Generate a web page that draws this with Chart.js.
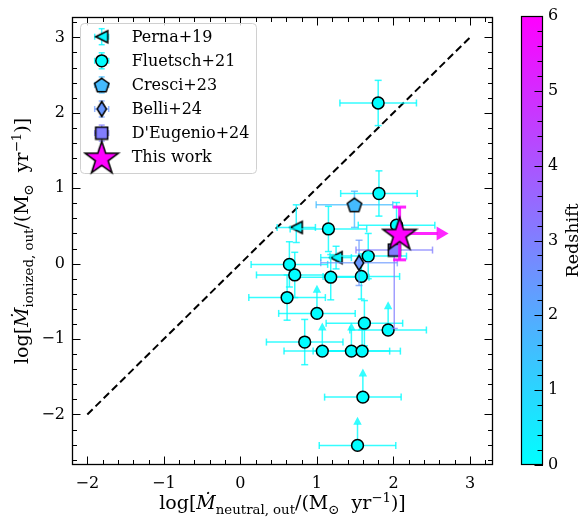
<!DOCTYPE html>
<html>
<head>
<meta charset="utf-8">
<script src="https://cdn.jsdelivr.net/npm/chart.js@4.4.1/dist/chart.umd.min.js"></script>
<style>
  html, body { margin: 0; padding: 0; background: #fff; }
  #wrap { position: relative; width: 582px; height: 518px; overflow: hidden; background: #fff; }
  canvas { position: absolute; top: 0; }
  #main { left: 0; }
  #cbar { left: 500px; }
</style>
</head>
<body>
<div id="wrap">
  <canvas id="main" width="510" height="518"></canvas>
  <canvas id="cbar" width="82" height="518"></canvas>
</div>
<script>
const FONT = "'DejaVu Serif', 'Liberation Serif', serif";
Chart.defaults.font.family = FONT;
Chart.defaults.font.size = 16;
Chart.defaults.color = '#000';

// ---------------- axes ----------------
const xTicks = [-2, -1, 0, 1, 2, 3];
const yTicks = [-2, -1, 0, 1, 2, 3];
const zTicks = [0, 1, 2, 3, 4, 5, 6];
const xRange = [-2.2, 3.3];
const yRange = [-2.67, 3.27];
const zRange = [0, 6];
const oneToOne = [-2, 3];

// ---------------- outflow rates, log(Msun/yr) ----------------
// Perna+19
const pernaX      = [0.73, 1.25];
const pernaY      = [0.48, 0.08];
const pernaXErr   = [0.25, 0.20];
const pernaYErrLo = [0.20, 0.15];
const pernaYErrHi = [0.30, 0.15];
const pernaZ      = [0.2, 0.2];

// Fluetsch+21
const fluetschX    = [1.80, 1.81, 2.04, 1.15, 1.67, 0.64, 0.71, 1.18, 1.58, 0.61, 1.00, 1.62, 1.93, 0.84, 1.07, 1.45, 1.59, 1.60, 1.53];
const fluetschY    = [2.13, 0.93, 0.51, 0.46, 0.10, -0.01, -0.15, -0.18, -0.17, -0.45, -0.66, -0.79, -0.88, -1.04, -1.16, -1.16, -1.16, -1.77, -2.41];
const fluetschXErr = [0.5, 0.5, 0.5, 0.5, 0.5, 0.5, 0.5, 0.5, 0.5, 0.5, 0.5, 0.5, 0.5, 0.5, 0.5, 0.5, 0.5, 0.5, 0.5];
const fluetschYErr = [0.3, 0.3, 0.3, 0.3, 0.3, 0.3, 0.3, 0.3, 0.3, 0.3, 0.38, 0.3, 0.38, 0.3, 0.38, 0.38, 0.38, 0.38, 0.38];
const fluetschYLim = [false, false, false, false, false, false, false, false, false, false, true, false, true, false, true, true, true, true, true];
const fluetschZ    = [0.05, 0.05, 0.05, 0.05, 0.05, 0.05, 0.05, 0.05, 0.05, 0.05, 0.05, 0.05, 0.05, 0.05, 0.05, 0.05, 0.05, 0.05, 0.05];

// Cresci+23
const cresciX = [1.49], cresciY = [0.78], cresciXErr = [0.5], cresciYErrLo = [0.30], cresciYErrHi = [0.18], cresciZ = [1.6];
// Belli+24
const belliX = [1.55], belliY = [0.01], belliXErr = [0.5], belliYErrLo = [0.30], belliYErrHi = [0.30], belliZ = [2.45];
// D'Eugenio+24
const deugX = [2.01], deugY = [0.18], deugXErr = [0.5], deugYErrLo = [1.04], deugYErrHi = [0.08], deugZ = [3.06];
// This work (lower limit on the neutral outflow rate)
const thisX = [2.08], thisY = [0.40], thisXErr = [0.64], thisYErr = [0.35], thisZ = [6.0];

// ---------------- colour map: cool (cyan -> magenta) ----------------
function cool(z, a) {
  const t = Math.min(1, Math.max(0, (z - zRange[0]) / (zRange[1] - zRange[0])));
  return `rgba(${Math.round(255 * t)},${Math.round(255 * (1 - t))},255,${a === undefined ? 1 : a})`;
}

// ---------------- marker glyphs ----------------
function makeMarker(kind, size, fill) {
  const c = document.createElement('canvas');
  c.width = c.height = size;
  const g = c.getContext('2d');
  const m = size / 2;
  g.beginPath();
  if (kind === 'triLeft') {
    const a = m - 2;
    g.moveTo(m - a, m); g.lineTo(m + a, m - a); g.lineTo(m + a, m + a);
  } else if (kind === 'pentagon') {
    const r = m - 1.5;
    for (let i = 0; i < 5; i++) {
      const ang = -Math.PI / 2 + i * 2 * Math.PI / 5;
      const px = m + r * Math.cos(ang), py = m + r * Math.sin(ang) + 0.8;
      i ? g.lineTo(px, py) : g.moveTo(px, py);
    }
  } else if (kind === 'thinDiamond') {
    const h = m - 1.5, w = h * 0.62;
    g.moveTo(m, m - h); g.lineTo(m + w, m); g.lineTo(m, m + h); g.lineTo(m - w, m);
  } else if (kind === 'square') {
    const h = m - 1.5;
    g.rect(m - h, m - h, 2 * h, 2 * h);
  } else if (kind === 'star') {
    const R = m - 1.5, r = R * 0.382;
    for (let i = 0; i < 10; i++) {
      const ang = -Math.PI / 2 + i * Math.PI / 5;
      const rr = i % 2 ? r : R;
      const px = m + rr * Math.cos(ang), py = m + rr * Math.sin(ang) + 1.5;
      i ? g.lineTo(px, py) : g.moveTo(px, py);
    }
  }
  g.closePath();
  g.fillStyle = fill; g.fill();
  g.lineWidth = 1.5; g.strokeStyle = '#000'; g.lineJoin = 'miter'; g.stroke();
  return c;
}

function pts(xs, ys) { return xs.map((x, i) => ({ x, y: ys[i] })); }

const datasets = [
  {
    label: 'This work', order: 0, data: pts(thisX, thisY),
    pointStyle: thisZ.map(z => makeMarker('star', 38, cool(z))), pointRadius: 16,
    showLine: false,
    err: { xlo: thisX.map(() => 0), xhi: thisXErr, xlim: thisX.map(() => true),
           ylo: thisYErr, yhi: thisYErr, ylim: thisX.map(() => false),
           colors: thisZ.map(z => cool(z, 0.85)), lw: 3, cap: 6.5, head: [12, 7] }
  },
  {
    label: "D'Eugenio+24", order: 1, data: pts(deugX, deugY),
    pointStyle: deugZ.map(z => makeMarker('square', 15, cool(z))), pointRadius: 7,
    showLine: false,
    err: { xlo: deugXErr, xhi: deugXErr, ylo: deugYErrLo, yhi: deugYErrHi,
           colors: deugZ.map(z => cool(z, 0.75)), lw: 1.5, cap: 3.5 }
  },
  {
    label: 'Belli+24', order: 2, data: pts(belliX, belliY),
    pointStyle: belliZ.map(z => makeMarker('thinDiamond', 18, cool(z))), pointRadius: 7,
    showLine: false,
    err: { xlo: belliXErr, xhi: belliXErr, ylo: belliYErrLo, yhi: belliYErrHi,
           colors: belliZ.map(z => cool(z, 0.7)), lw: 1.5, cap: 3.5 }
  },
  {
    label: 'Cresci+23', order: 3, data: pts(cresciX, cresciY),
    pointStyle: cresciZ.map(z => makeMarker('pentagon', 18, cool(z))), pointRadius: 7,
    showLine: false,
    err: { xlo: cresciXErr, xhi: cresciXErr, ylo: cresciYErrLo, yhi: cresciYErrHi,
           colors: cresciZ.map(z => cool(z, 0.75)), lw: 1.5, cap: 3.5 }
  },
  {
    label: 'Fluetsch+21', order: 4, data: pts(fluetschX, fluetschY),
    pointStyle: 'circle', pointRadius: 5.9, pointBorderWidth: 1.5,
    pointBackgroundColor: fluetschZ.map(z => cool(z)), pointBorderColor: '#000',
    showLine: false,
    err: { xlo: fluetschXErr, xhi: fluetschXErr,
           ylo: fluetschYErr.map((v, i) => fluetschYLim[i] ? 0 : v), yhi: fluetschYErr, ylim: fluetschYLim,
           colors: fluetschZ.map(z => cool(z, 0.8)), lw: 1.5, cap: 3.5, head: [8, 4.2] }
  },
  {
    label: 'Perna+19', order: 5, data: pts(pernaX, pernaY),
    pointStyle: pernaZ.map(z => makeMarker('triLeft', 16, cool(z))), pointRadius: 7,
    showLine: false,
    err: { xlo: pernaXErr, xhi: pernaXErr, ylo: pernaYErrLo, yhi: pernaYErrHi,
           colors: pernaZ.map(z => cool(z, 0.8)), lw: 1.5, cap: 3.5 }
  },
  {
    type: 'line', label: '1:1', order: 6, data: pts(oneToOne, oneToOne),
    borderColor: '#000', borderWidth: 2, borderDash: [7.5, 4], pointRadius: 0, fill: false
  }
];

// ---------------- drawing helpers ----------------
function seg(ctx, x1, y1, x2, y2) { ctx.beginPath(); ctx.moveTo(x1, y1); ctx.lineTo(x2, y2); ctx.stroke(); }
function head(ctx, x, y, dir, len, hw) {
  ctx.beginPath();
  if (dir === 'up') { ctx.moveTo(x, y); ctx.lineTo(x - hw, y + len); ctx.lineTo(x + hw, y + len); }
  else { ctx.moveTo(x, y); ctx.lineTo(x - len, y - hw); ctx.lineTo(x - len, y + hw); }
  ctx.closePath(); ctx.fill();
}

// error bars and limit arrows, drawn just beneath each series' markers
const errorBars = {
  id: 'errorBars',
  beforeDatasetDraw(chart, args) {
    const ds = chart.data.datasets[args.index];
    const e = ds.err;
    if (!e) return;
    const sx = chart.scales.x, sy = chart.scales.y, ctx = chart.ctx;
    ctx.save();
    ctx.lineWidth = e.lw; ctx.lineCap = 'butt';
    ds.data.forEach((p, i) => {
      ctx.strokeStyle = e.colors[i]; ctx.fillStyle = e.colors[i];
      const px = sx.getPixelForValue(p.x), py = sy.getPixelForValue(p.y);
      // horizontal
      const xl = sx.getPixelForValue(p.x - e.xlo[i]), xr = sx.getPixelForValue(p.x + e.xhi[i]);
      if (e.xlim && e.xlim[i]) {
        const [len, hw] = e.head;
        seg(ctx, px, py, xr - len + 1, py);
        head(ctx, xr, py, 'right', len, hw);
      } else {
        seg(ctx, xl, py, xr, py);
        seg(ctx, xl, py - e.cap, xl, py + e.cap);
        seg(ctx, xr, py - e.cap, xr, py + e.cap);
      }
      // vertical
      const yb = sy.getPixelForValue(p.y - e.ylo[i]), yt = sy.getPixelForValue(p.y + e.yhi[i]);
      if (e.ylim && e.ylim[i]) {
        const [len, hw] = e.head;
        seg(ctx, px, py, px, yt + len - 1);
        head(ctx, px, yt, 'up', len, hw);
      } else {
        seg(ctx, px, yb, px, yt);
        seg(ctx, px - e.cap, yb, px + e.cap, yb);
        seg(ctx, px - e.cap, yt, px + e.cap, yt);
      }
    });
    ctx.restore();
  }
};

function richText(ctx, parts, x, y) {
  let w = 0;
  parts.forEach(s => { ctx.font = s.f; s.w = ctx.measureText(s.t).width; w += s.w; });
  let cx = x - w / 2;
  ctx.textAlign = 'left'; ctx.textBaseline = 'alphabetic';
  parts.forEach(s => { ctx.font = s.f; ctx.fillText(s.t, cx, y + (s.dy || 0)); cx += s.w; });
}

const BIG = `19px ${FONT}`, BIGI = `italic 19px ${FONT}`, SMALL = `13.3px ${FONT}`;
function unitLabel(phase) {
  return [
    { t: 'log[', f: BIG }, { t: 'Ṁ', f: BIGI }, { t: phase + ', out', f: SMALL, dy: 4.5 },
    { t: '/(M', f: BIG }, { t: '⊙', f: SMALL, dy: 4.5 }, { t: '  yr', f: BIG },
    { t: '−1', f: SMALL, dy: -7.5 }, { t: ')]', f: BIG }
  ];
}

function ticksOn(ctx, scale, horiz, a, major, minor) {
  const lo = Math.ceil(scale.min * 5 - 1e-9), hi = Math.floor(scale.max * 5 + 1e-9);
  for (let k = lo; k <= hi; k++) {
    const v = k / 5, L = (k % 5 === 0) ? major : minor;
    const p = Math.round(scale.getPixelForValue(v)) + 0.5;
    if (horiz) { seg(ctx, p, a.bottom, p, a.bottom - L); seg(ctx, p, a.top, p, a.top + L); }
    else { seg(ctx, a.left, p, a.left + L, p); seg(ctx, a.right, p, a.right - L, p); }
  }
}

// frame, inward ticks, legend and axis titles
const decorations = {
  id: 'decorations',
  afterDraw(chart) {
    const { ctx, chartArea: a, scales: { x, y } } = chart;
    ctx.save();
    ctx.strokeStyle = '#000'; ctx.lineWidth = 1;
    ticksOn(ctx, x, true, a, 8.5, 5);
    ticksOn(ctx, y, false, a, 8.5, 5);
    ctx.lineWidth = 1.3;
    ctx.strokeRect(a.left + 0.5, a.top + 0.5, a.right - a.left - 1, a.bottom - a.top - 1);

    // legend
    const box = { l: 80, t: 23, r: 256, b: 173 };
    ctx.beginPath();
    ctx.roundRect(box.l + 0.5, box.t + 0.5, box.r - box.l, box.b - box.t, 4);
    ctx.fillStyle = 'rgba(255,255,255,0.8)'; ctx.fill();
    ctx.strokeStyle = '#d0d0d0'; ctx.lineWidth = 1; ctx.stroke();
    const rows = ['Perna+19', 'Fluetsch+21', 'Cresci+23', 'Belli+24', "D'Eugenio+24", 'This work'];
    rows.forEach((name, r) => {
      const ds = chart.data.datasets.find(d => d.label === name);
      const cy = 36.7 + r * 24.1, cx = 101.7, e = ds.err;
      ctx.strokeStyle = e.colors[0]; ctx.lineWidth = e.lw;
      const hl = 7, vl = 8, c = 3;
      seg(ctx, cx - hl, cy, cx + hl, cy);
      seg(ctx, cx - hl, cy - c, cx - hl, cy + c); seg(ctx, cx + hl, cy - c, cx + hl, cy + c);
      seg(ctx, cx, cy - vl, cx, cy + vl);
      seg(ctx, cx - c, cy - vl, cx + c, cy - vl); seg(ctx, cx - c, cy + vl, cx + c, cy + vl);
      const st = Array.isArray(ds.pointStyle) ? ds.pointStyle[0] : ds.pointStyle;
      if (typeof st === 'string') {
        ctx.beginPath(); ctx.arc(cx, cy, ds.pointRadius, 0, 2 * Math.PI);
        ctx.fillStyle = ds.pointBackgroundColor[0]; ctx.fill();
        ctx.lineWidth = 1.5; ctx.strokeStyle = '#000'; ctx.stroke();
      } else {
        ctx.drawImage(st, cx - st.width / 2, cy - st.height / 2);
      }
      ctx.fillStyle = '#000'; ctx.font = `16px ${FONT}`;
      ctx.textAlign = 'left'; ctx.textBaseline = 'middle';
      ctx.fillText(name, 131.7, cy + 1);
    });

    // axis titles
    ctx.fillStyle = '#000';
    richText(ctx, unitLabel('neutral'), (a.left + a.right) / 2, 509);
    ctx.translate(28, (a.top + a.bottom) / 2);
    ctx.rotate(-Math.PI / 2);
    richText(ctx, unitLabel('ionized'), 0, 0);
    ctx.restore();
  }
};

const minusFmt = v => (v < 0 ? '\u2212' + Math.abs(v) : String(v));

new Chart(document.getElementById('main'), {
  type: 'scatter',
  data: { datasets },
  options: {
    responsive: false, animation: false, devicePixelRatio: 1,
    layout: { padding: { top: 16, right: 13, left: 0, bottom: 0 } },
    plugins: { legend: { display: false }, tooltip: { enabled: false } },
    scales: {
      x: {
        type: 'linear', min: xRange[0], max: xRange[1],
        grid: { display: false, drawTicks: false }, border: { display: false },
        ticks: { padding: 9, callback: minusFmt, maxRotation: 0, autoSkip: false, font: { size: 16 } },
        afterBuildTicks: s => { s.ticks = xTicks.map(v => ({ value: v })); },
        afterFit: s => { s.height = 53; }
      },
      y: {
        type: 'linear', min: yRange[0], max: yRange[1],
        grid: { display: false, drawTicks: false }, border: { display: false },
        ticks: { padding: 7, callback: minusFmt, autoSkip: false, font: { size: 16 } },
        afterBuildTicks: s => { s.ticks = yTicks.map(v => ({ value: v })); },
        afterFit: s => { s.width = 72; }
      }
    }
  },
  plugins: [errorBars, decorations]
});

// ---------------- colour bar ----------------
const cbarFrame = {
  id: 'cbarFrame',
  afterDraw(chart) {
    const { ctx, chartArea: a, scales: { y } } = chart;
    ctx.save();
    ctx.strokeStyle = '#000'; ctx.lineWidth = 1;
    const lo = Math.ceil(y.min * 5), hi = Math.floor(y.max * 5);
    for (let k = lo; k <= hi; k++) {
      const L = k % 5 === 0 ? 8.5 : 5.5;
      const p = Math.round(y.getPixelForValue(k / 5)) + 0.5;
      seg(ctx, a.right, p, a.right - L, p);
    }
    ctx.lineWidth = 1.2;
    ctx.strokeRect(a.left + 0.5, a.top + 0.5, a.right - a.left - 1, a.bottom - a.top - 1);
    ctx.fillStyle = '#000'; ctx.font = `17.5px ${FONT}`;
    ctx.textAlign = 'center'; ctx.textBaseline = 'alphabetic';
    ctx.translate(78, (a.top + a.bottom) / 2);
    ctx.rotate(-Math.PI / 2);
    ctx.fillText('Redshift', 0, 0);
    ctx.restore();
  }
};

new Chart(document.getElementById('cbar'), {
  type: 'bar',
  data: {
    labels: ['z'],
    datasets: [{
      data: [zRange],
      borderWidth: 0, barPercentage: 1, categoryPercentage: 1,
      backgroundColor(c) {
        const a = c.chart.chartArea;
        if (!a) return 'rgba(0,0,0,0)';
        const g = c.chart.ctx.createLinearGradient(0, a.bottom, 0, a.top);
        g.addColorStop(0, cool(zRange[0]));
        g.addColorStop(1, cool(zRange[1]));
        return g;
      }
    }]
  },
  options: {
    responsive: false, animation: false, devicePixelRatio: 1,
    layout: { padding: { left: 21, top: 16, bottom: 53, right: 0 } },
    plugins: { legend: { display: false }, tooltip: { enabled: false } },
    scales: {
      x: { display: false },
      y: {
        position: 'right', min: zRange[0], max: zRange[1],
        grid: { display: false, drawTicks: false }, border: { display: false },
        ticks: { padding: 5, autoSkip: false, font: { size: 16 } },
        afterBuildTicks: s => { s.ticks = zTicks.map(v => ({ value: v })); },
        afterFit: s => { s.width = 39; }
      }
    }
  },
  plugins: [cbarFrame]
});
</script>
</body>
</html>
